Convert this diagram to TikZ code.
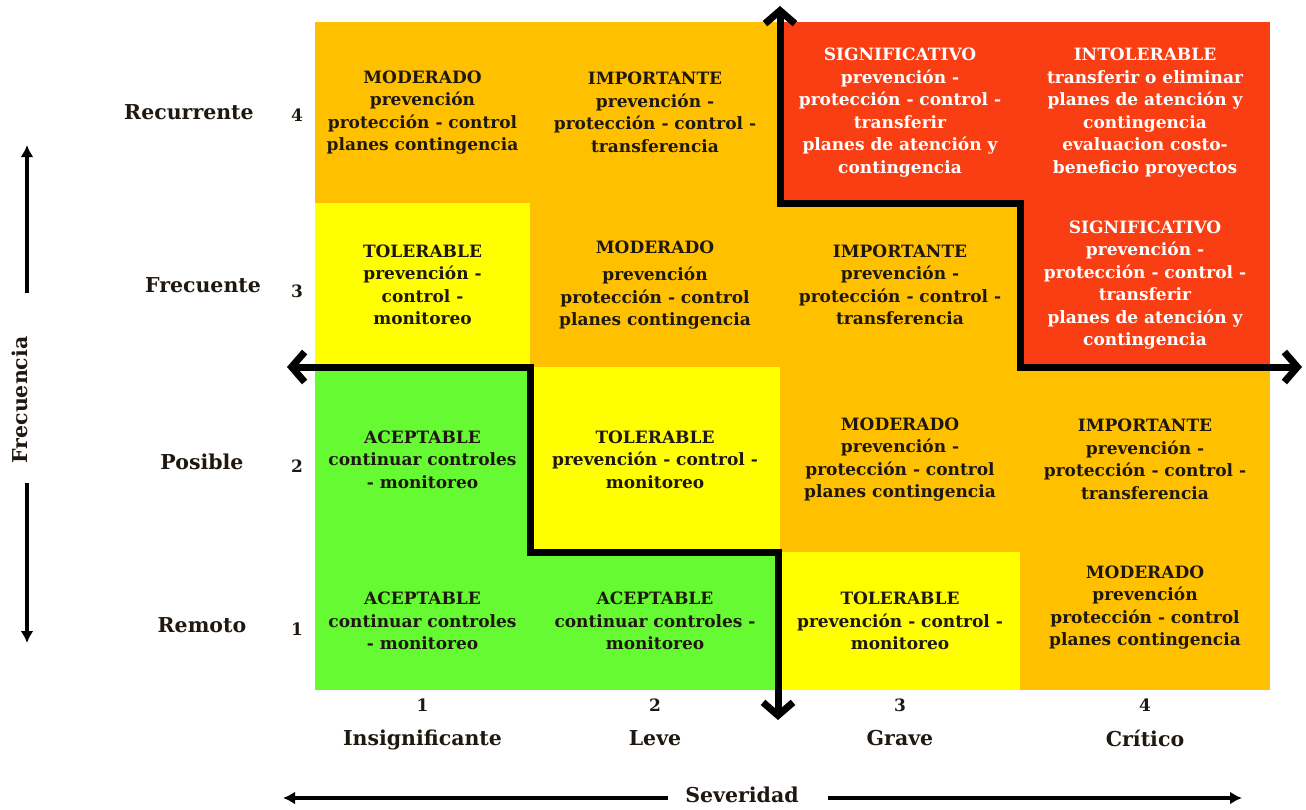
\documentclass[tikz,border=0pt]{standalone}
\usepackage{fontspec}
\setmainfont{DejaVu Serif}
\usepackage{xcolor}
\usetikzlibrary{positioning,arrows.meta}
\definecolor{riskorange}{RGB}{255,192,0}
\definecolor{riskyellow}{RGB}{255,255,0}
\definecolor{riskgreen}{RGB}{102,250,51}
\definecolor{riskred}{RGB}{250,62,20}
\definecolor{inkdark}{RGB}{30,24,16}

\begin{document}
\begin{tikzpicture}[
  x=1pt, y=-1pt,
  font=\bfseries\fontsize{17}{22.5}\selectfont,
  every node/.style={align=center, text=inkdark},
  cell/.style={inner sep=0pt, outer sep=0pt},
  orangecell/.style={cell, fill=riskorange},
  yellowcell/.style={cell, fill=riskyellow},
  greencell/.style={cell, fill=riskgreen},
  redcell/.style={cell, fill=riskred, text=white},
  c1/.style={minimum width=215}, c2/.style={minimum width=250},
  c3/.style={minimum width=240}, c4/.style={minimum width=250},
  r4/.style={minimum height=181}, r3/.style={minimum height=164},
  r2/.style={minimum height=185}, r1/.style={minimum height=138},
  axislbl/.style={font=\bfseries\fontsize{20.5}{24}\selectfont},
  numlbl/.style={font=\bfseries\fontsize{17}{20}\selectfont},
  limit/.style={line width=7pt, {Straight Barb[length=13pt,width=30pt]}-{Straight Barb[length=13pt,width=30pt]}},
  axisarrow/.style={line width=3.5pt, -{Latex[length=12pt,width=13pt]}},
]
\useasboundingbox (0,0) rectangle (1306,809);
% row 4: recurrente
\node[orangecell, c1, r4] (r4c1) at (422.5,112.5) {MODERADO\\prevención\\protección - control\\planes contingencia};
\node[orangecell, c2, r4] (r4c2) at (655,112.5) {IMPORTANTE\\prevención -\\protección - control -\\transferencia};
\node[redcell, c3, r4] (r4c3) at (900,112.5) {SIGNIFICATIVO\\prevención -\\protección - control -\\transferir\\planes de atención y\\contingencia};
\node[redcell, c4, r4] (r4c4) at (1145,112.5) {INTOLERABLE\\transferir o eliminar\\planes de atención y\\contingencia\\evaluacion costo-\\beneficio proyectos};
% row 3: frecuente
\node[yellowcell, c1, r3] (r3c1) at (422.5,285) {TOLERABLE\\prevención -\\control -\\monitoreo};
\node[orangecell, c2, r3] (r3c2) at (655,285) {MODERADO\\[5pt]prevención\\protección - control\\planes contingencia};
\node[orangecell, c3, r3] (r3c3) at (900,285) {IMPORTANTE\\prevención -\\protección - control -\\transferencia};
\node[redcell, c4, r3] (r3c4) at (1145,285) {SIGNIFICATIVO\\prevención -\\protección - control -\\transferir\\planes de atención y\\contingencia};
% row 2: posible
\node[greencell, c1, r2] (r2c1) at (422.5,459.5) {ACEPTABLE\\continuar controles\\- monitoreo};
\node[yellowcell, c2, r2] (r2c2) at (655,459.5) {TOLERABLE\\prevención - control -\\monitoreo};
\node[orangecell, c3, r2] (r2c3) at (900,459.5) {MODERADO\\prevención -\\protección - control\\planes contingencia};
\node[orangecell, c4, r2] (r2c4) at (1145,459.5) {IMPORTANTE\\prevención -\\protección - control -\\transferencia};
% row 1: remoto
\node[greencell, c1, r1] (r1c1) at (422.5,621) {ACEPTABLE\\continuar controles\\- monitoreo};
\node[greencell, c2, r1] (r1c2) at (655,621) {ACEPTABLE\\continuar controles -\\monitoreo};
\node[yellowcell, c3, r1] (r1c3) at (900,621) {TOLERABLE\\prevención - control -\\monitoreo};
\node[orangecell, c4, r1] (r1c4) at (1145,621) {MODERADO\\prevención\\protección - control\\planes contingencia\\[8pt]};
% frecuencia axis
\node[axislbl] (recurrente) at (189,112) {Recurrente};
\node[axislbl] (frecuente) at (203,285) {Frecuente};
\node[axislbl] (posible) at (202,462) {Posible};
\node[axislbl] (remoto) at (202,625) {Remoto};
\node[numlbl] (n4) at (297,115) {4};
\node[numlbl] (n3) at (297,291) {3};
\node[numlbl] (n2) at (297,466) {2};
\node[numlbl] (n1) at (297,629) {1};
\node[axislbl, rotate=90] (frec) at (20,400) {Frecuencia};
% severidad axis
\node[numlbl, below=5pt of r1c1] (s1) {1};
\node[numlbl, below=5pt of r1c2] (s2) {2};
\node[numlbl, below=5pt of r1c3] (s3) {3};
\node[numlbl, below=5pt of r1c4] (s4) {4};
\node[axislbl, below=12pt of s1] (insig) {Insignificante};
\node[axislbl, below=12pt of s2] (leve) {Leve};
\node[axislbl, below=12pt of s3] (grave) {Grave};
\node[axislbl, below=12pt of s4] (critico) {Crítico};
\node[axislbl] (sev) at (742,795) {Severidad};
% arrow ends
\coordinate (uptip) at (780,6);
\coordinate (righttip) at (1302,367);
\coordinate (lefttip) at (287,367);
\coordinate (downtip) at (778,720);
\coordinate (ftop) at (27,145);
\coordinate (fbot) at (27,643);
\coordinate (sleft) at (283,798);
\coordinate (sright) at (1242,798);
% limits between zones
\draw[limit] (uptip) -- (r4c3.south west) -- (r3c4.north west) -- (r3c4.south west) -- (righttip);
\draw[limit] (lefttip) -- (r2c1.north east) -- (r2c1.south east) -- ([xshift=-2pt]r1c2.north east) -- (downtip);
% axis arrows
\draw[axisarrow, shorten <=40pt] (frec.east -| ftop) -- (ftop);
\draw[axisarrow, shorten <=16pt] (frec.west -| fbot) -- (fbot);
\draw[axisarrow, shorten <=14pt] (sev.west |- sleft) -- (sleft);
\draw[axisarrow, shorten <=26pt] (sev.east |- sright) -- (sright);
\end{tikzpicture}
\end{document}
